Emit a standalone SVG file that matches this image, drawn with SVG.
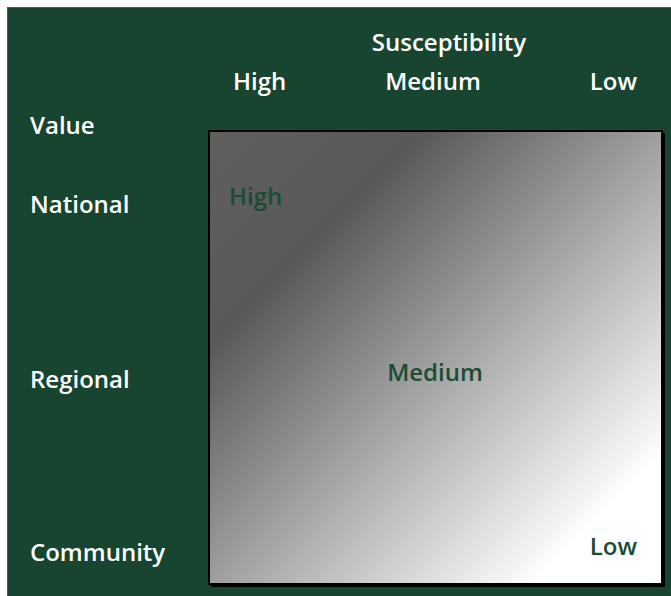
<svg xmlns="http://www.w3.org/2000/svg" width="671" height="596" viewBox="0 0 671 596">
<defs>
<linearGradient id="g" x1="0" y1="0" x2="1" y2="1">
<stop offset="0" stop-color="#5f5f5f"/>
<stop offset="0.24" stop-color="#595959"/>
<stop offset="0.86" stop-color="#ffffff"/>
<stop offset="1" stop-color="#ffffff"/>
</linearGradient>
<style>
.w{font-family:"Open Sans","Liberation Sans",sans-serif;font-weight:600;font-size:24px;fill:#ffffff}
.d{font-family:"Open Sans","Liberation Sans",sans-serif;font-weight:600;font-size:24px;fill:#1b4d34}
</style>
</defs>
<rect x="0" y="0" width="671" height="596" fill="#ffffff"/>
<rect x="7.5" y="7.5" width="670" height="600" fill="#17452f" stroke="#555555" stroke-width="1"/>
<g id="matrix">
<rect x="211" y="133" width="454" height="454" fill="#000000"/>
<rect x="209" y="131" width="453" height="453" fill="url(#g)" stroke="#000000" stroke-width="2"/>
</g>
<g id="axis-x">
<text class="w" x="449" y="51" text-anchor="middle">Susceptibility</text>
<text class="w" x="233" y="90">High</text>
<text class="w" x="433" y="90" text-anchor="middle">Medium</text>
<text class="w" x="637" y="90" text-anchor="end">Low</text>
</g>
<g id="axis-y">
<text class="w" x="30" y="134">Value</text>
<text class="w" x="30" y="213">National</text>
<text class="w" x="30" y="388">Regional</text>
<text class="w" x="30" y="561">Community</text>
</g>
<g id="cells">
<text class="d" x="229" y="205">High</text>
<text class="d" x="435" y="381" text-anchor="middle">Medium</text>
<text class="d" x="637" y="555" text-anchor="end">Low</text>
</g>
<g id="connectors"></g>
</svg>
